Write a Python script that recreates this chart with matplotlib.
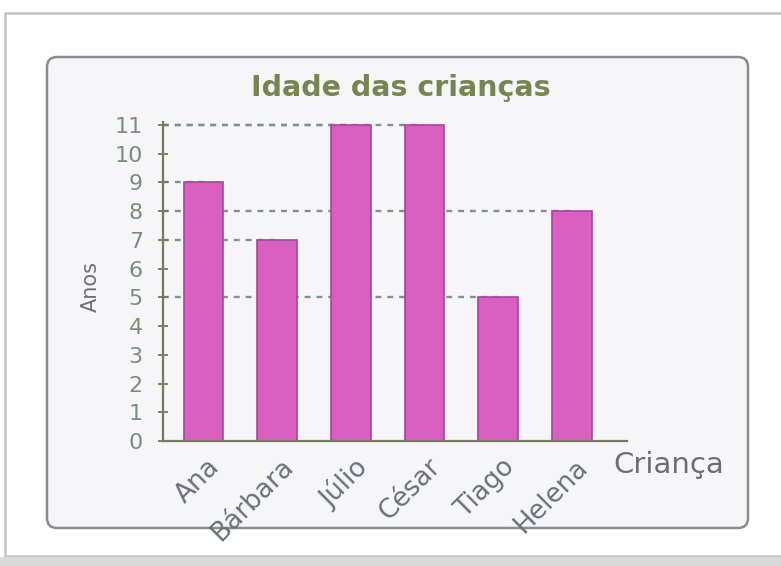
import matplotlib.pyplot as plt
from matplotlib.patches import FancyBboxPatch, Rectangle
from matplotlib.transforms import ScaledTranslation

criancas = ['Ana', 'Bárbara', 'Júlio', 'César', 'Tiago', 'Helena']
idades = [9, 7, 11, 11, 5, 8]
y_ticks = list(range(0, 12))

bar_color = '#d85fc0'
bar_edge = '#a8449c'
axis_color = '#767a58'
grid_color = '#7f9290'

fig = plt.figure(figsize=(7.81, 5.66), dpi=100)
fig.patch.set_facecolor('white')

# page frame + bottom shadow
fig.add_artist(Rectangle((0.05, 0.10), 8.0, 5.66 - 0.23, transform=fig.dpi_scale_trans,
                         facecolor='white', edgecolor='#c4c4c4', linewidth=1.8, zorder=0))
fig.add_artist(Rectangle((0, 0), 7.81, 0.09, transform=fig.dpi_scale_trans,
                         facecolor='#d9d9d9', edgecolor='none', zorder=0))

# rounded panel
fig.add_artist(FancyBboxPatch((0.47, 5.66 - 5.28), 7.01, 4.71, transform=fig.dpi_scale_trans,
                              boxstyle='round,pad=0,rounding_size=0.1',
                              facecolor='#f6f6f9', edgecolor='#8c8c8c', linewidth=1.8, zorder=0))

ax = fig.add_axes([163 / 781, 1 - 441 / 566, (627 - 163) / 781, (441 - 122) / 566])
ax.patch.set_alpha(0)

x = list(range(len(criancas)))
ax.hlines(idades, -0.55, x, colors=grid_color, linestyles=(0, (2.5, 2.5)), linewidth=1.7, zorder=1)
ax.bar(x, idades, width=0.54, color=bar_color, edgecolor=bar_edge, linewidth=1.2, zorder=2)

ax.set_xlim(-0.55, 5.75)
ax.set_ylim(0, 11.1)

for s in ['top', 'right']:
    ax.spines[s].set_visible(False)
for s in ['left', 'bottom']:
    ax.spines[s].set_color(axis_color)
    ax.spines[s].set_linewidth(1.6)

ax.set_yticks(y_ticks)
ax.tick_params(axis='y', direction='inout', length=7, width=1.3, color=axis_color,
               labelsize=16, labelcolor='#7a8e7c', pad=11)

ax.set_xticks(x)
ax.set_xticklabels(criancas, rotation=45, ha='right', va='top', rotation_mode='anchor',
                   fontsize=19, color='#6a7078')
ax.tick_params(axis='x', length=0, pad=0)
offset = ScaledTranslation(0.03, -0.13, fig.dpi_scale_trans)
for lab in ax.get_xticklabels():
    lab.set_transform(lab.get_transform() + offset)

fig.text(401 / 781, 1 - 88 / 566, 'Idade das crianças', ha='center', va='center',
         fontsize=20.5, fontweight='bold', color='#7a8450')
fig.text(613 / 781, 1 - 465 / 566, 'Criança', ha='left', va='center',
         fontsize=21, color='#6e6e6e')
fig.text(91 / 781, 1 - 287 / 566, 'Anos', ha='center', va='center', rotation=90,
         fontsize=15, color='#707070')

fig.savefig('out.png', dpi=100)
